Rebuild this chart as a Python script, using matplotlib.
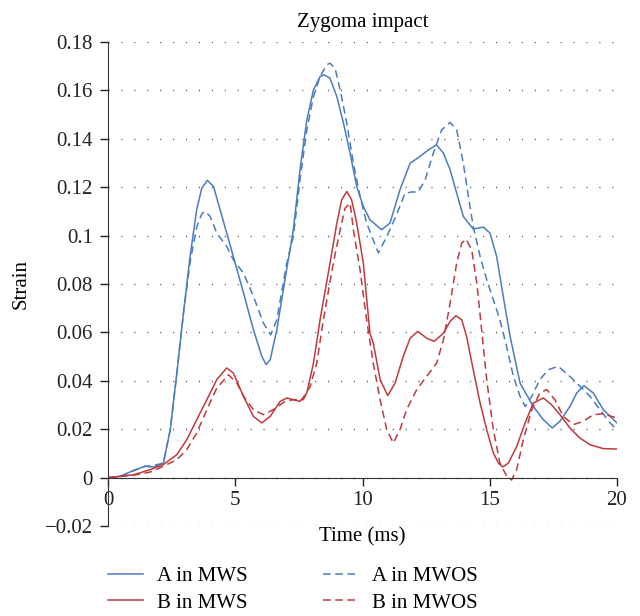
import numpy as np
import matplotlib
matplotlib.use("Agg")
import matplotlib.pyplot as plt

plt.rcParams['font.family'] = ['Liberation Serif', 'DejaVu Serif']

# values (time in ms, strain)
t_a_mws = [0, 0.47, 1.0, 1.45, 1.78, 2.17, 2.44, 2.70, 2.96, 3.22, 3.48, 3.68, 3.90,
           4.14, 4.40, 4.66, 4.92, 5.32, 5.71, 6.04, 6.21, 6.37, 6.63, 6.95, 7.28,
           7.54, 7.81, 8.07, 8.33, 8.49, 8.72, 8.99, 9.25, 9.51, 9.77, 10.03, 10.29,
           10.75, 11.08, 11.47, 11.87, 12.26, 12.59, 12.91, 13.18, 13.44, 13.70,
           13.96, 14.35, 14.75, 15.01, 15.27, 15.53, 15.80, 16.19, 16.71, 17.11,
           17.46, 17.76, 18.15, 18.42, 18.70, 19.07, 19.46, 20.0]
a_mws = [0, 0.0005, 0.003, 0.0047, 0.0044, 0.006, 0.0198, 0.0432, 0.068, 0.0914,
         0.1107, 0.1196, 0.1228, 0.1203, 0.1107, 0.101, 0.0914, 0.0763, 0.0611,
         0.0501, 0.0467, 0.0487, 0.0611, 0.0818, 0.1024, 0.1272, 0.1478, 0.1602,
         0.1657, 0.1664, 0.165, 0.1574, 0.1464, 0.134, 0.1203, 0.112, 0.1065,
         0.1024, 0.1052, 0.1189, 0.1299, 0.1327, 0.1354, 0.1375, 0.134, 0.1272,
         0.1175, 0.1079, 0.1027, 0.1035, 0.101, 0.0914, 0.0749, 0.0583, 0.0391,
         0.0294, 0.0239, 0.0205, 0.0233, 0.0294, 0.035, 0.038, 0.035, 0.0281, 0.0226]

t_a_mwos = [0, 0.47, 1.0, 1.45, 1.78, 2.17, 2.44, 2.70, 2.96, 3.22, 3.48, 3.68, 3.81,
            4.01, 4.27, 4.66, 4.92, 5.32, 5.71, 6.10, 6.39, 6.63, 7.02, 7.28, 7.54,
            7.81, 8.07, 8.33, 8.59, 8.72, 8.92, 9.12, 9.38, 9.64, 9.90, 10.16, 10.62,
            10.95, 11.34, 11.67, 11.93, 12.19, 12.46, 12.78, 13.11, 13.44, 13.70,
            13.96, 14.16, 14.35, 14.62, 14.88, 15.14, 15.40, 15.66, 15.93, 16.19,
            16.39, 16.65, 16.97, 17.30, 17.69, 18.15, 18.55, 18.94, 19.33, 19.73, 20.0]
a_mwos = [0, 0.0005, 0.0028, 0.0047, 0.005, 0.006, 0.0198, 0.0432, 0.068, 0.089,
          0.1035, 0.109, 0.110, 0.1079, 0.101, 0.0955, 0.090, 0.0845, 0.0749, 0.0639,
          0.059, 0.0652, 0.0886, 0.0996, 0.123, 0.1437, 0.1574, 0.1657, 0.1705, 0.1712,
          0.1691, 0.1602, 0.1464, 0.1299, 0.1162, 0.1052, 0.0928, 0.0996, 0.1087,
          0.1175, 0.118, 0.118, 0.123, 0.134, 0.1437, 0.1467, 0.1437, 0.1299, 0.1162,
          0.1038, 0.0914, 0.0818, 0.0735, 0.0652, 0.0542, 0.0418, 0.0336, 0.0294,
          0.0336, 0.0405, 0.0446, 0.046, 0.0418, 0.0377, 0.0336, 0.0281, 0.0226, 0.0198]

t_b_mws = [0, 1.0, 1.65, 2.17, 2.70, 3.09, 3.48, 3.88, 4.27, 4.66, 4.92, 5.32, 5.71,
           6.04, 6.37, 6.76, 7.02, 7.28, 7.54, 7.81, 8.07, 8.33, 8.72, 8.99, 9.18,
           9.38, 9.57, 9.77, 10.03, 10.29, 10.42, 10.69, 10.99, 11.28, 11.60, 11.87,
           12.17, 12.52, 12.82, 13.18, 13.44, 13.67, 13.90, 14.09, 14.35, 14.62,
           14.88, 15.14, 15.34, 15.51, 15.73, 16.06, 16.39, 16.71, 17.11, 17.43,
           17.76, 18.15, 18.55, 18.94, 19.46, 20.0]
b_mws = [0, 0.0012, 0.0033, 0.0054, 0.0095, 0.0157, 0.0239, 0.0322, 0.0405, 0.0453,
         0.0432, 0.0336, 0.0253, 0.0226, 0.0253, 0.0315, 0.0329, 0.0322, 0.0315, 0.035,
         0.0473, 0.0652, 0.0886, 0.1052, 0.1148, 0.1182, 0.1148, 0.1052, 0.0886,
         0.0597, 0.0556, 0.0405, 0.0339, 0.0391, 0.0501, 0.0576, 0.0604, 0.0576,
         0.0563, 0.0597, 0.0645, 0.0669, 0.0652, 0.0583, 0.0446, 0.0308, 0.0198,
         0.0102, 0.006, 0.0044, 0.006, 0.0129, 0.0226, 0.0308, 0.0329, 0.0301, 0.026,
         0.0205, 0.0163, 0.0136, 0.012, 0.0118]

t_b_mwos = [0, 1.0, 1.65, 2.17, 2.70, 3.09, 3.48, 3.88, 4.27, 4.73, 5.06, 5.32, 5.71,
            6.10, 6.50, 6.95, 7.28, 7.67, 7.94, 8.20, 8.46, 8.85, 9.12, 9.31, 9.51,
            9.64, 9.90, 10.16, 10.42, 10.69, 10.95, 11.21, 11.47, 11.73, 12.13, 12.52,
            12.91, 13.18, 13.44, 13.70, 13.90, 14.07, 14.29, 14.49, 14.68, 14.88,
            15.14, 15.40, 15.66, 15.86, 16.06, 16.32, 16.65, 16.97, 17.24, 17.56,
            17.89, 18.29, 18.68, 19.07, 19.46, 20.0]
b_mwos = [0, 0.001, 0.0023, 0.0047, 0.0074, 0.0116, 0.0184, 0.0281, 0.037, 0.0425,
          0.0391, 0.0336, 0.0281, 0.026, 0.0281, 0.0315, 0.0322, 0.0322, 0.0377,
          0.0473, 0.0652, 0.0886, 0.1024, 0.1113, 0.1134, 0.1024, 0.0859, 0.0652,
          0.0473, 0.0322, 0.0198, 0.0143, 0.0198, 0.0281, 0.0364, 0.0418, 0.0473,
          0.0569, 0.072, 0.0886, 0.0969, 0.0985, 0.0941, 0.0804, 0.0611, 0.0405,
          0.0198, 0.006, 0.0007, -0.001, 0.0034, 0.0157, 0.0281, 0.035, 0.0364,
          0.0322, 0.0253, 0.0219, 0.0233, 0.026, 0.0264, 0.0246]

blue = "#4a7cc0"
red = "#c0393d"
fs = 15

fig = plt.figure(figsize=(6.4, 6.16), dpi=100)
ax = fig.add_axes([0.169, 0.146, 0.795, 0.786])

l1, = ax.plot(t_a_mws, a_mws, color=blue, lw=1.1, label="A in MWS")
l2, = ax.plot(t_a_mwos, a_mwos, color=blue, lw=1.1, ls=(0, (5, 3)), label="A in MWOS")
l3, = ax.plot(t_b_mws, b_mws, color=red, lw=1.1, label="B in MWS")
l4, = ax.plot(t_b_mwos, b_mwos, color=red, lw=1.1, ls=(0, (5, 3)), label="B in MWOS")

ax.set_xlim(0, 20)
ax.set_ylim(-0.02, 0.18)
ax.set_xticks([0, 5, 10, 15, 20])
ax.set_yticks(np.arange(-0.02, 0.181, 0.02))
ax.set_yticklabels(["\u22120.02", "0", "0.02", "0.04", "0.06", "0.08", "0.1",
                    "0.12", "0.14", "0.16", "0.18"])

ax.spines['top'].set_visible(False)
ax.spines['right'].set_visible(False)
ax.spines['bottom'].set_position(('data', 0))
ax.spines['bottom'].set_color("#333333")
ax.spines['left'].set_color("#333333")
ax.tick_params(direction='out', length=6, width=1, labelsize=fs, colors="#222222")
ax.tick_params(axis='y', pad=5)
ax.tick_params(axis='x', pad=3.5)
ax.yaxis.grid(True, color="#555555", lw=1.0, ls=(0, (0.8, 8.5)))
ax.set_axisbelow(True)

ax.set_title("Zygoma impact", fontsize=fs, pad=11)
ax.set_ylabel("Strain", fontsize=fs)
ax.yaxis.set_label_coords(-0.153, 0.5)
ax.set_xlabel("Time (ms)", fontsize=fs)
ax.xaxis.set_label_coords(0.5, -0.002)

fig.legend(handles=[l1, l3, l2, l4], ncol=2, loc="upper left",
           bbox_to_anchor=(0.169, 0.08), frameon=False, fontsize=fs,
           borderpad=0, borderaxespad=0, handlelength=1.68, handletextpad=0.67,
           columnspacing=3.6, labelspacing=0.33)

fig.savefig("out.png", dpi=100)
